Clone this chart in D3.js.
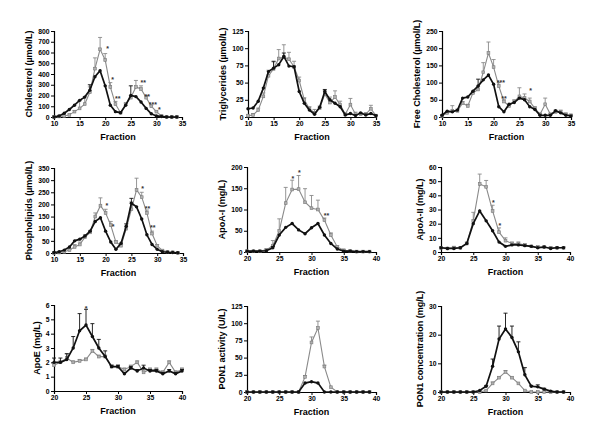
<!DOCTYPE html>
<html><head><meta charset="utf-8">
<script src="https://cdn.jsdelivr.net/npm/d3@7"></script>
<style>
body{margin:0;background:#fff;}
text{font-family:"Liberation Sans",Arial,sans-serif;font-weight:bold;}
</style></head>
<body><svg id="c" width="600" height="448"></svg>
<script>
// ---------- DATA ----------
const frac10to34 = [10,11,12,13,14,15,16,17,18,19,20,21,22,23,24,25,26,27,28,29,30,31,32,33,34];
const frac10to35 = [10,11,12,13,14,15,16,17,18,19,20,21,22,23,24,25,26,27,28,29,30,31,32,33,34,35];
const frac20to39 = [20,21,22,23,24,25,26,27,28,29,30,31,32,33,34,35,36,37,38,39];
const frac20to40 = [20,21,22,23,24,25,26,27,28,29,30,31,32,33,34,35,36,37,38,39,40];

const cholBlack = [0,10,35,70,110,155,185,250,375,430,290,110,50,40,110,200,190,140,80,30,10,5,0,0,0];
const cholBlackErr = [0,0,0,0,0,0,0,50,0,0,0,0,0,0,0,90,0,0,0,0,0,0,0,0,0];
const cholGray = [0,5,10,20,50,80,120,230,450,630,530,280,120,40,120,180,280,260,180,100,50,10,2,0,0];
const cholGrayErr = [0,0,0,0,10,70,70,50,100,110,60,40,25,5,10,20,60,30,20,10,5,0,0,0,0];
const cholStars = [[20.2,650,"*"],[21.2,360,"*"],[21.9,185,"**"],[26.9,330,"**"],[27.7,205,"**"],[28.5,125,"***"],[30.3,80,"*"]];

const tgBlack = [12,13,23,42,66,71,76,88,74,73,37,20,10,4,14,37,25,20,15,3,5,2,6,3,5,2];
const tgBlackErr = [0,0,0,0,0,10,0,5,0,0,0,0,0,0,0,3,0,0,0,0,0,0,0,0,0,0];
const tgGray = [2,3,10,30,60,70,85,87,84,73,53,25,12,6,13,33,21,29,18,4,18,4,4,4,12,2];
const tgGrayErr = [0,2,3,5,8,10,13,18,10,8,5,3,3,5,3,5,8,9,5,2,9,3,2,2,5,1];
const tgStars = [];

const fcBlack = [5,17,15,20,55,58,75,90,108,122,95,30,15,37,42,55,50,30,22,5,5,5,18,12,5,3];
const fcBlackErr = [0,0,0,0,0,0,0,20,0,0,0,0,0,0,0,0,0,0,0,0,0,0,0,0,0,0];
const fcGray = [3,12,18,18,40,32,70,80,130,186,145,90,45,32,45,60,55,45,25,8,37,8,15,15,8,5];
const fcGrayErr = [0,3,15,5,5,5,5,10,28,32,22,10,5,5,5,25,12,10,5,2,18,2,5,5,3,2];
const fcStars = [[20.6,105,"***"],[21.5,58,"**"],[26.9,81,"*"]];

const plBlack = [2,5,12,25,50,57,70,90,130,145,90,45,15,40,110,205,190,140,75,35,15,5,3,2,1];
const plBlackErr = [0,0,0,0,0,0,0,0,0,0,0,0,0,0,10,20,0,0,0,0,0,0,0,0,0];
const plGray = [0,2,5,12,25,35,65,85,150,195,165,115,45,30,100,180,260,230,165,80,30,10,5,3,1];
const plGrayErr = [0,0,0,3,10,10,10,8,15,32,15,15,5,5,10,30,48,20,12,10,5,2,0,0,0];
const plStars = [[20.0,200,"*"],[21.2,116,"*"],[26.9,272,"*"],[27.6,190,"**"],[28.6,109,"**"]];

const a1Black = [2,2,2,3,10,40,58,67,52,43,57,67,40,20,7,2,2,1,1,1];
const a1BlackErr = [0,0,0,0,3,0,0,0,0,0,0,0,0,0,0,0,0,0,0,0];
const a1Gray = [2,2,2,5,15,50,115,147,148,117,103,100,75,40,12,4,3,1,1,1];
const a1GrayErr = [0,0,0,2,12,28,37,22,32,32,30,22,5,5,3,2,1,0,0,0];
const a1Stars = [[26.9,176,"*"],[27.9,190,"*"],[31.9,89,"**"]];

const a2Black = [3,2.5,2.5,3,6,20,29,22,15,7,4,5,5,4.5,4,3,3.5,2.5,3,3];
const a2BlackErr = [0,0,0,0,0,0,0,0,0,0,0,0,0,0,0,0,0,0,0,0];
const a2Gray = [3,2.5,3,3,6,22,48,46,29,14,8,6,6,5,4,3.5,3.5,3,3,3];
const a2GrayErr = [0.5,0.5,1,0.5,1,6,7,4.5,4,3,2,1,1,0.5,0.5,0.5,0.5,0.5,0.5,0.5];
const a2Stars = [[27.9,36,"*"],[28.9,20,"*"]];

const aeBlack = [2.0,2.0,2.2,3.0,4.2,4.6,3.8,3.0,2.4,1.7,1.7,1.2,1.6,1.4,1.6,1.4,1.4,1.2,1.4,1.2,1.4];
const aeBlackErr = [0.3,0.3,0.4,0.8,1.2,1.1,0.9,0.6,0.4,0.1,0.1,0.1,0.1,0.1,0.2,0.1,0.1,0.1,0.1,0.1,0.1];
const aeGray = [1.8,2.0,2.3,2.0,2.1,2.2,2.8,2.4,2.4,1.7,1.7,1.5,1.7,2.0,1.3,1.5,1.5,1.3,2.0,1.3,1.5];
const aeGrayErr = [0.1,0.1,0.3,0.1,0.1,0.1,0.1,0.1,0.1,0.1,0.1,0.1,0.1,0.1,0.1,0.1,0.1,0.1,0.1,0.1,0.1];
const aeStars = [[24.8,5.85,"*"]];

const paBlack = [0,0,0,0,0,0,0,0,0,13,15,13,0,0,0,0,0,0,0,0];
const paBlackErr = [0,0,0,0,0,0,0,0,0,0,0,0,0,0,0,0,0,0,0,0];
const paGray = [0,0,0,0,0,0,0,0,0,22,72,93,37,7,0,0,0,0,0,0];
const paGrayErr = [0,0,0,0,0,0,0,0,0,2,8,10,2,0,0,0,0,0,0,0];
const paStars = [];

const pcBlack = [0,0,0,0,0,0,0.5,2,9,18.5,22,19,14,6,2,1.8,1,0.3,0,0];
const pcBlackErr = [0,0,0,0,0,0,0,0.3,2.5,4.5,5.5,4,3.5,2.5,0.3,0.7,0.3,0,0,0];
const pcGray = [0,0,0,0,0,0,0,0.5,3,5,7,5,3,0.5,0,0,0,0,0,0];
const pcGrayErr = [0,0,0,0,0,0,0,0,0.5,0.3,0.5,0.3,0,0,0,0,0,0,0,0];
const pcStars = [];

const titles = ["Cholesterol (µmol/L)","Triglycerides (µmol/L)","Free Cholesterol (µmol/L)",
  "Phospholipids (µmol/L)","ApoA-I (mg/L)","ApoA-II (mg/L)",
  "ApoE (mg/L)","PON1 activity (U/L)","PON1 concentration (mg/L)"];
const xTicksA = [10,15,20,25,30,35];
const xTicksB = [20,25,30,35,40];
const yTicksChol = [0,100,200,300,400,500,600,700,800];
const yTicksTg = [0,25,50,75,100,125];
const yTicksFc = [0,50,100,150,200,250];
const yTicksPl = [0,50,100,150,200,250,300,350];
const yTicksA1 = [0,50,100,150,200];
const yTicksA2 = [0,10,20,30,40,50,60];
const yTicksAe = [0,1,2,3,4,5,6];
const yTicksPa = [0,25,50,75,100,125];
const yTicksPc = [0,10,20,30];

// ---------- LAYOUT ----------
const boxes = [
  {l:54,r:182,t:31,b:117},{l:248,r:376,t:31,b:117},{l:442,r:571,t:31,b:117},
  {l:54,r:183,t:168,b:253},{l:247,r:376,t:167,b:252},{l:441,r:570,t:167,b:252},
  {l:54,r:182,t:305,b:391},{l:247,r:376,t:306,b:392},{l:441,r:570,t:306,b:392}
];
const panels = [
  {x:frac10to34,k:cholBlack,ke:cholBlackErr,g:cholGray,ge:cholGrayErr,st:cholStars,xt:xTicksA,yt:yTicksChol},
  {x:frac10to35,k:tgBlack,ke:tgBlackErr,g:tgGray,ge:tgGrayErr,st:tgStars,xt:xTicksA,yt:yTicksTg},
  {x:frac10to35,k:fcBlack,ke:fcBlackErr,g:fcGray,ge:fcGrayErr,st:fcStars,xt:xTicksA,yt:yTicksFc},
  {x:frac10to34,k:plBlack,ke:plBlackErr,g:plGray,ge:plGrayErr,st:plStars,xt:xTicksA,yt:yTicksPl},
  {x:frac20to39,k:a1Black,ke:a1BlackErr,g:a1Gray,ge:a1GrayErr,st:a1Stars,xt:xTicksB,yt:yTicksA1},
  {x:frac20to39,k:a2Black,ke:a2BlackErr,g:a2Gray,ge:a2GrayErr,st:a2Stars,xt:xTicksB,yt:yTicksA2},
  {x:frac20to40,k:aeBlack,ke:aeBlackErr,g:aeGray,ge:aeGrayErr,st:aeStars,xt:xTicksB,yt:yTicksAe},
  {x:frac20to39,k:paBlack,ke:paBlackErr,g:paGray,ge:paGrayErr,st:paStars,xt:xTicksB,yt:yTicksPa},
  {x:frac20to39,k:pcBlack,ke:pcBlackErr,g:pcGray,ge:pcGrayErr,st:pcStars,xt:xTicksB,yt:yTicksPc}
];

const svg = d3.select("#c");
svg.append("rect").attr("width",600).attr("height",448).attr("fill","#fff");

panels.forEach((p,i)=>{
  const b = boxes[i];
  const xs = d3.scaleLinear().domain([p.xt[0],p.xt[p.xt.length-1]]).range([b.l,b.r]);
  const ys = d3.scaleLinear().domain([p.yt[0],p.yt[p.yt.length-1]]).range([b.b,b.t]);
  const g = svg.append("g");

  // axes
  const xa = g.append("g").attr("transform",`translate(0,${b.b})`)
    .call(d3.axisBottom(xs).tickValues(p.xt).tickSize(3).tickPadding(1.5).tickFormat(d3.format("d")));
  const ya = g.append("g").attr("transform",`translate(${b.l},0)`)
    .call(d3.axisLeft(ys).tickValues(p.yt).tickSize(3).tickPadding(1.5).tickFormat(d3.format("d")));
  [xa,ya].forEach(a=>{
    a.selectAll("path").attr("stroke","#000").attr("stroke-width",1.2);
    a.selectAll("line").attr("stroke","#000").attr("stroke-width",1);
    a.selectAll("text").attr("font-size","6.8px").attr("font-family","Liberation Sans, Arial, sans-serif").attr("font-weight","bold").attr("fill","#000");
  });
  let maxW = 0;
  ya.selectAll("text").each(function(){maxW=Math.max(maxW,this.getBBox().width);});

  g.append("text").attr("x",(b.l+b.r)/2).attr("y",b.b+23).attr("text-anchor","middle")
    .attr("font-size","9px").text("Fraction");
  const tx = b.l - 3 - 1.5 - maxW - 6;
  g.append("text").attr("transform",`translate(${tx},${(b.t+b.b)/2}) rotate(-90)`)
    .attr("text-anchor","middle").attr("font-size","9px").text(titles[i]);

  const drawSeries = (vals, errs, color, lw, shape)=>{
    const pts = p.x.map((f,j)=>({f, v:vals[j], e:errs[j]}));
    // error bars
    pts.filter(d=>d.e>0).forEach(d=>{
      const x = xs(d.f), y0 = ys(d.v), y1 = ys(d.v+d.e);
      g.append("line").attr("x1",x).attr("x2",x).attr("y1",y0).attr("y2",y1).attr("stroke",color).attr("stroke-width",0.9);
      g.append("line").attr("x1",x-2).attr("x2",x+2).attr("y1",y1).attr("y2",y1).attr("stroke",color).attr("stroke-width",0.9);
    });
    g.append("path").datum(pts).attr("fill","none").attr("stroke",color).attr("stroke-width",lw)
      .attr("d",d3.line().x(d=>xs(d.f)).y(d=>ys(d.v)));
    if(shape==="circle"){
      g.selectAll(null).data(pts).enter().append("circle")
        .attr("cx",d=>xs(d.f)).attr("cy",d=>ys(d.v)).attr("r",1.7).attr("fill",color);
    } else {
      g.selectAll(null).data(pts).enter().append("rect")
        .attr("x",d=>xs(d.f)-1.4).attr("y",d=>ys(d.v)-1.4).attr("width",2.8).attr("height",2.8)
        .attr("fill","#b0b0b0").attr("stroke","#7a7a7a").attr("stroke-width",0.6);
    }
  };
  drawSeries(p.g, p.ge, "#8a8a8a", 1.1, "square");
  drawSeries(p.k, p.ke, "#111", 1.7, "circle");

  p.st.forEach(s=>{
    g.append("text").attr("x",xs(s[0])).attr("y",ys(s[1])).attr("dy","0.55em")
      .attr("font-size","7px").attr("fill","#333").text(s[2]);
  });
});
</script></body></html>
